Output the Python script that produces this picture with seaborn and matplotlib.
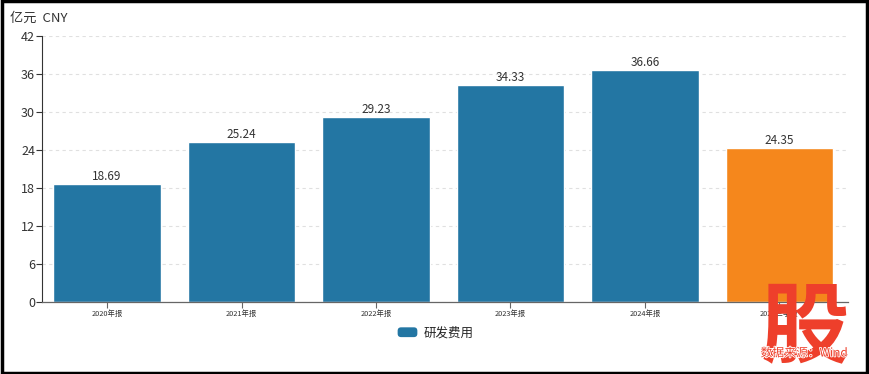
import matplotlib
matplotlib.use("Agg")
import matplotlib.pyplot as plt
import matplotlib.patheffects as pe
import seaborn as sns
import pandas as pd
from matplotlib.patches import Rectangle, FancyBboxPatch
from matplotlib.legend_handler import HandlerPatch

categories = ["2020年报", "2021年报", "2022年报", "2023年报", "2024年报", "2025三季报"]
values = [18.69, 25.24, 29.23, 34.33, 36.66, 24.35]
bar_colors = ["#2376a3", "#2376a3", "#2376a3", "#2376a3", "#2376a3", "#f5871c"]
series_name = "研发费用"
y_ticks = [0, 6, 12, 18, 24, 30, 36, 42]

sns.set_theme(style="white")
plt.rcParams["font.family"] = ["Noto Sans CJK SC", "DejaVu Sans"]

df = pd.DataFrame({"cat": categories, "val": values})

fig = plt.figure(figsize=(8.69, 3.74), dpi=100)
ax = fig.add_axes([0.0483, 0.1925, 0.9275, 0.7112])

sns.barplot(data=df, x="cat", y="val", hue="cat", palette=bar_colors,
            width=0.8, legend=False, ax=ax, saturation=1)

for i, (c, v) in enumerate(zip(categories, values)):
    ax.text(i, v + 0.15, f"{v:.2f}", ha="center", va="bottom", fontsize=8.5, color="#333333")

ax.set_xlim(-0.484, 5.51)
ax.set_ylim(0, 42)
ax.set_yticks(y_ticks)
ax.set_yticklabels([str(t) for t in y_ticks], fontsize=9, color="#333333")
ax.tick_params(axis="y", length=4, width=0.8, color="#333333", pad=1, left=True)
ax.tick_params(axis="x", length=4, width=0.8, color="#666666", pad=2, bottom=True, labelsize=5.3, labelcolor="#333333")
ax.set_xlabel("")
ax.set_ylabel("")
ax.grid(axis="y", linestyle=(0, (3, 3)), color="#e0e0e0", linewidth=0.8)
ax.set_axisbelow(True)
for s in ["top", "right"]:
    ax.spines[s].set_visible(False)
ax.spines["left"].set_color("#333333")
ax.spines["left"].set_linewidth(0.8)
ax.spines["bottom"].set_color("#666666")
ax.spines["bottom"].set_linewidth(0.9)

fig.text(10 / 869, 1 - 18 / 374, "亿元  CNY", fontsize=9.5, color="#333333", va="center", ha="left")


class RoundHandler(HandlerPatch):
    def create_artists(self, legend, orig_handle, xdescent, ydescent, width, height, fontsize, trans):
        p = FancyBboxPatch((-xdescent + 1, -ydescent + 0.5), width - 2, height - 1,
                           boxstyle="round,pad=0,rounding_size=2.5",
                           facecolor=orig_handle.get_facecolor(), edgecolor="none", transform=trans)
        return [p]


handle = Rectangle((0, 0), 1, 1, facecolor="#2376a3")
fig.legend([handle], [series_name], loc="center", bbox_to_anchor=(435 / 869, 1 - 333 / 374),
           frameon=False, fontsize=9, handlelength=1.8, handleheight=1.0, handletextpad=0.4,
           handler_map={Rectangle: RoundHandler()})

# watermark
fig.text(805 / 869, 1 - 329 / 374, "股", fontsize=64, color="#ee3f2b", ha="center", va="center",
         fontweight="bold")
fig.text(804 / 869, 1 - 353 / 374, "数据来源：Wind", fontsize=8.5, color="#ee3f2b", ha="center", va="center",
         path_effects=[pe.withStroke(linewidth=1.2, foreground="white")], zorder=10)

# border
fig.patches.append(Rectangle((0.002, 0.003), 0.996, 0.994, transform=fig.transFigure,
                             fill=False, edgecolor="black", linewidth=2.5))

fig.savefig("out.png", dpi=100)
